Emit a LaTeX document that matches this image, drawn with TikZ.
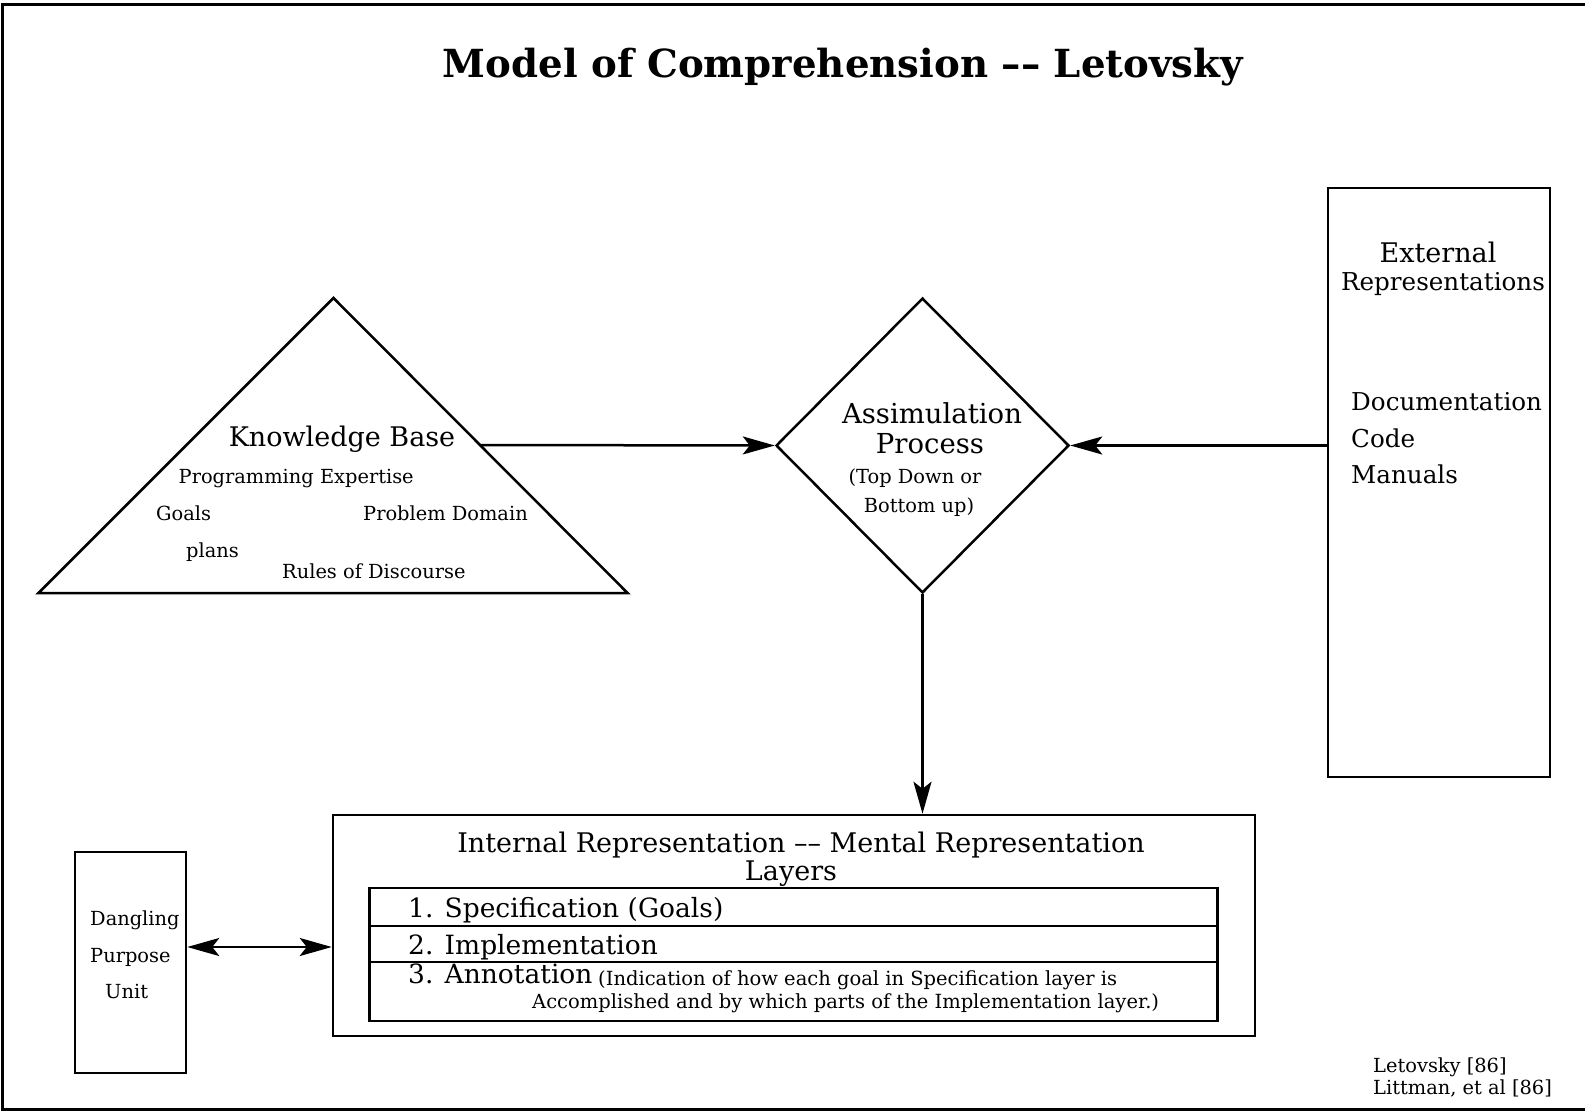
\documentclass[tikz,border=0pt]{standalone}
\usepackage{fontspec}
\setmainfont{DejaVu Serif}
\usetikzlibrary{arrows.meta,shapes.geometric}

\tikzset{
  shape line/.style={line width=2.5pt, line join=miter},
  box/.style={draw, shape line, rectangle, inner sep=0pt},
  tip/.style={},
  arr/.style={line width=2.5pt, -{Stealth[length=32pt,width=18pt,inset=7pt]}},
  dblarr/.style={line width=2.5pt, {Stealth[length=32pt,width=18pt,inset=7pt]}-{Stealth[length=32pt,width=18pt,inset=7pt]}},
  lbl/.style={inner sep=0pt, anchor=base west},
  clbl/.style={inner sep=0pt, anchor=base},
  big/.style={font=\fontsize{27}{30}\selectfont},
  apfont/.style={font=\fontsize{27.5}{30}\selectfont},
  mid/.style={font=\fontsize{24.6}{28}\selectfont},
  small/.style={font=\fontsize{19.4}{22}\selectfont},
  note/.style={font=\fontsize{19.5}{22}\selectfont},
  layer/.style={font=\fontsize{26.5}{30}\selectfont},
}

\begin{document}
\begin{tikzpicture}[x=1pt,y=-1pt]
\useasboundingbox (0,0) rectangle (1585,1111);

% page frame (open on the right)
\draw[line width=3pt] (1585,4) -- (2,4) -- (2,1109) -- (1585,1109);

% title
\node[clbl, font=\fontsize{38.7}{42}\selectfont\bfseries] (title) at (843,77.5)
  {Model of Comprehension –– Letovsky};

% knowledge base triangle
\coordinate (kbTop) at (333.5,298);
\coordinate (kbBL) at (38.5,593);
\coordinate (kbBR) at (627.5,593);
\draw[shape line] (kbTop) -- (kbBR) -- (kbBL) -- cycle;
\coordinate (kbOut) at (480,445);
\node[clbl, big] (kb) at (342,446) {Knowledge Base};
\node[lbl, small] (kb1) at (178.5,483) {Programming Expertise};
\node[lbl, small] (kb2) at (156,520) {Goals};
\node[lbl, small] (kb3) at (363,520) {Problem Domain};
\node[lbl, small] (kb4) at (186,557) {plans};
\node[lbl, small] (kb5) at (282,578) {Rules of Discourse};

% assimilation process diamond
\node[draw, shape line, diamond, minimum width=293pt, minimum height=295pt, inner sep=0pt]
  (ap) at (922.5,445.5) {};
\node[clbl, apfont] (ap1) at (932,423) {Assimulation};
\node[clbl, apfont] (ap2) at (930,453) {Process};
\node[clbl, small] (ap3) at (915,483) {(Top Down or};
\node[clbl, small] (ap4) at (919,512) {Bottom up)};

% external representations
\node[box, minimum width=222pt, minimum height=589pt] (ext) at (1439,482.5) {};
\node[clbl, big] (ext1) at (1438,262) {External};
\node[clbl, mid] (ext2) at (1443,290) {Representations};
\node[lbl, mid] (ext3) at (1351,410) {Documentation};
\node[lbl, mid] (ext4) at (1351,447) {Code};
\node[lbl, mid] (ext5) at (1351,483) {Manuals};

% internal representation
\node[box, minimum width=922pt, minimum height=221pt] (ir) at (794,925.5) {};
\node[clbl, big] (ir1) at (801,852) {Internal Representation –– Mental Representation};
\node[clbl, big] (ir2) at (791,880) {Layers};
\node[box, minimum width=848pt, minimum height=133pt] (lay) at (793.5,954.5) {};
\coordinate (d1) at (369.5,926);
\coordinate (d2) at (369.5,962);
\draw[shape line] (d1) -- (d1 -| lay.east);
\draw[shape line] (d2) -- (d2 -| lay.east);
\node[lbl, layer] (l1) at (408,917) {1. Specification (Goals)};
\node[lbl, layer] (l2) at (408,954) {2. Implementation};
\node[lbl, layer] (l3) at (408,983) {3. Annotation};
\node[lbl, note] (l3a) at (598,985) {(Indication of how each goal in Specification layer is};
\node[lbl, note] (l3b) at (532,1008) {Accomplished and by which parts of the Implementation layer.)};

% dangling purpose unit
\node[box, minimum width=111pt, minimum height=221pt] (dpu) at (130.5,962.5) {};
\node[lbl, small] (dpu1) at (90,925) {Dangling};
\node[lbl, small] (dpu2) at (90,962) {Purpose};
\node[lbl, small] (dpu3) at (105,998) {Unit};

% references
\node[lbl, small] (ref1) at (1373,1072) {Letovsky [86]};
\node[lbl, small] (ref2) at (1373,1094) {Littman, et al [86]};

% connectors
\draw[arr] (kbOut) -- (ap.west);
\draw[arr] (ext.west |- ap.east) -- (ap.east);
\draw[arr] (ap.south) -- (ap.south |- ir.north);
\draw[dblarr] ([yshift=15.5pt]dpu.east) -- ([yshift=15.5pt]dpu.east -| ir.west);
\end{tikzpicture}
\end{document}
